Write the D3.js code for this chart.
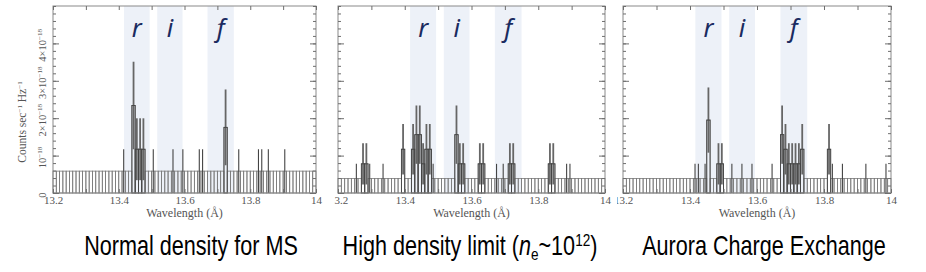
<!DOCTYPE html>
<html>
<head>
<meta charset="utf-8">
<script src="https://cdn.jsdelivr.net/npm/d3@7"></script>
<style>
body { margin: 0; background: #fff; }
</style>
</head>
<body>
<svg id="chart" width="926" height="272"></svg>
<script>
/*global d3 */
// tick labels / categories
var wavelengthTicks = [13.2, 13.4, 13.6, 13.8, 14];
var wavelengthTickLabels = ["13.2", "13.4", "13.6", "13.8", "14"];
var fluxTicks = [0, 1e-18, 2e-18, 3e-18, 4e-18];
var fluxTickMantissa = ["0", "10", "2\u00d710", "3\u00d710", "4\u00d710"];
var fluxTickExponent = ["", "\u221218", "\u221218", "\u221218", "\u221218"];
var lineNames = ["r", "i", "f"];
var lineLo = [13.416, 13.517, 13.670];
var lineHi = [13.494, 13.594, 13.750];
var panelTitles = ["Normal density for MS", "High density limit", "Aurora Charge Exchange"];

// spectra: counts per 0.01 A bin from 13.2 A, and flux of one count
var binStart = 13.2;
var binWidth = 0.01;
var fluxPerCount = [0.585e-18, 0.39e-18, 0.39e-18];
var countsNormal = [
    0, 0, 0, 0, 0, 0, 0, 0, 0, 0,
    0, 0, 0, 0, 0, 0, 0, 0, 0, 0,
    0, 1, 0, 0, 4, 2, 2, 2, 0, 0,
    1, 0, 0, 0, 0, 0, 1, 0, 0, 1,
    0, 0, 0, 0, 1, 1, 0, 0, 0, 0,
    0, 0, 3, 0, 0, 0, 1, 0, 0, 0,
    0, 0, 1, 1, 0, 1, 0, 0, 0, 0,
    1, 0, 0, 0, 0, 0, 0, 0, 0, 0
];
var countsHighDensity = [
    0, 0, 0, 0, 0, 1, 0, 2, 2, 1,
    0, 0, 0, 1, 0, 0, 0, 0, 0, 3,
    0, 0, 3, 4, 4, 2, 3, 3, 1, 0,
    0, 0, 0, 0, 0, 4, 2, 2, 0, 0,
    0, 0, 2, 2, 0, 0, 0, 1, 0, 1,
    0, 2, 2, 0, 0, 0, 0, 0, 0, 0,
    0, 0, 0, 2, 2, 0, 0, 0, 1, 1,
    0, 0, 0, 0, 0, 0, 0, 0, 0, 0
];
var countsAurora = [
    0, 0, 0, 0, 0, 0, 0, 0, 0, 0,
    0, 0, 0, 0, 0, 0, 0, 0, 0, 0,
    0, 1, 1, 0, 1, 5, 0, 0, 2, 2,
    0, 0, 1, 0, 0, 1, 0, 0, 1, 0,
    0, 0, 0, 0, 1, 0, 0, 4, 3, 2,
    2, 2, 2, 3, 0, 0, 0, 0, 0, 0,
    0, 3, 1, 0, 0, 1, 0, 0, 0, 0,
    0, 0, 1, 0, 0, 0, 0, 0, 1, 0
];
var allCounts = [countsNormal, countsHighDensity, countsAurora];

// layout
var panelLeft = [53, 338, 623];
var panelRight = [316, 605, 891];
var clipLeft = [0, 334, 617];
var clipRight = [326, 613, 926];
var captionX = [191, 470, 764];
var plotTop = 6, plotBottom = 193;
var serif = "'Liberation Serif', 'Times New Roman', serif";
var axisGrey = "#6e6e6e";

var svg = d3.select("#chart");
var defs = svg.append("defs");

var drawPanel = function (p) {
    "use strict";
    var counts = allCounts[p];
    var fpc = fluxPerCount[p];
    var x = d3.scaleLinear().domain([13.2, 14]).range([panelLeft[p], panelRight[p]]);
    var y = d3.scaleLinear().domain([0, 5e-18]).range([plotBottom, plotTop]);

    defs.append("clipPath").attr("id", "clip" + p)
        .append("rect").attr("x", clipLeft[p]).attr("y", 0)
        .attr("width", clipRight[p] - clipLeft[p]).attr("height", 224);
    var g = svg.append("g").attr("clip-path", "url(#clip" + p + ")");

    // line bands
    g.selectAll("rect.band").data(lineNames).enter().append("rect")
        .attr("class", "band")
        .attr("x", function (d, i) { return x(lineLo[i]); })
        .attr("width", function (d, i) { return x(lineHi[i]) - x(lineLo[i]); })
        .attr("y", y(5e-18))
        .attr("height", y(0) - y(5e-18))
        .attr("fill", "#edf1f8");

    g.selectAll("text.line").data(lineNames).enter().append("text")
        .attr("class", "line")
        .attr("x", function (d, i) { return (x(lineLo[i]) + x(lineHi[i])) / 2; })
        .attr("y", 37)
        .attr("text-anchor", "middle")
        .attr("font-family", "'Noto Sans', 'Open Sans', sans-serif")
        .attr("font-style", "italic")
        .attr("font-size", 25)
        .attr("fill", "#1a2b60")
        .text(function (d) { return d; });

    var bins = counts.map(function (c, i) {
        return {lo: binStart + i * binWidth, hi: binStart + (i + 1) * binWidth, c: c};
    });

    // histogram boxes (empty bins shown at the one-count upper limit)
    g.selectAll("rect.bin").data(bins).enter().append("rect")
        .attr("class", "bin")
        .attr("x", function (d) { return x(d.lo); })
        .attr("width", function (d) { return x(d.hi) - x(d.lo); })
        .attr("y", function (d) { return y(Math.max(d.c, 1) * fpc); })
        .attr("height", function (d) { return y(0) - y(Math.max(d.c, 1) * fpc); })
        .attr("fill", "none")
        .attr("stroke", "#7a7a7a")
        .attr("stroke-width", 0.8);

    // error bars
    g.selectAll("line.err").data(bins.filter(function (d) { return d.c > 0; })).enter().append("line")
        .attr("class", "err")
        .attr("x1", function (d) { return x((d.lo + d.hi) / 2); })
        .attr("x2", function (d) { return x((d.lo + d.hi) / 2); })
        .attr("y1", function (d) { return y((d.c - Math.sqrt(d.c)) * fpc); })
        .attr("y2", function (d) { return y((d.c + Math.sqrt(d.c)) * fpc); })
        .attr("stroke", function (d) { return d.c > 1 ? "#666" : "#444"; })
        .attr("stroke-width", function (d) { return d.c > 1 ? 1.8 : 1.1; });

    // step outline of the detected bins
    g.selectAll("rect.top").data(bins.filter(function (d) { return d.c > 1; })).enter().append("rect")
        .attr("class", "top")
        .attr("x", function (d) { return x(d.lo); })
        .attr("width", function (d) { return x(d.hi) - x(d.lo); })
        .attr("y", function (d) { return y(d.c * fpc); })
        .attr("height", function (d) { return y(0) - y(d.c * fpc); })
        .attr("fill", "none")
        .attr("stroke", "#444")
        .attr("stroke-width", 0.9);

    // frame
    g.append("rect")
        .attr("x", x(13.2)).attr("y", y(5e-18))
        .attr("width", x(14) - x(13.2)).attr("height", y(0) - y(5e-18))
        .attr("fill", "none").attr("stroke", "#8a8a8a").attr("stroke-width", 1);

    var minorX = d3.range(13.2, 14.0001, 0.1);
    var minorY = d3.range(0, 5.0001e-18, 0.2e-18);
    var styleAxis = function (a) {
        a.select(".domain").remove();
        a.selectAll("line").attr("stroke", axisGrey);
    };
    g.append("g").attr("transform", "translate(0," + y(0) + ")")
        .call(d3.axisBottom(x).tickValues(minorX).tickSizeInner(-4).tickSizeOuter(0).tickFormat(""))
        .call(styleAxis);
    g.append("g").attr("transform", "translate(0," + y(5e-18) + ")")
        .call(d3.axisTop(x).tickValues(minorX).tickSizeInner(-4).tickSizeOuter(0).tickFormat(""))
        .call(styleAxis);
    g.append("g").attr("transform", "translate(" + x(13.2) + ",0)")
        .call(d3.axisLeft(y).tickValues(minorY).tickSizeInner(-3).tickSizeOuter(0).tickFormat(""))
        .call(styleAxis);
    g.append("g").attr("transform", "translate(" + x(13.2) + ",0)")
        .call(d3.axisLeft(y).tickValues(fluxTicks).tickSizeInner(-6).tickSizeOuter(0).tickFormat(""))
        .call(styleAxis);
    g.append("g").attr("transform", "translate(" + x(14) + ",0)")
        .call(d3.axisRight(y).tickValues(minorY).tickSizeInner(-3).tickSizeOuter(0).tickFormat(""))
        .call(styleAxis);
    g.append("g").attr("transform", "translate(" + x(14) + ",0)")
        .call(d3.axisRight(y).tickValues(fluxTicks).tickSizeInner(-6).tickSizeOuter(0).tickFormat(""))
        .call(styleAxis);

    // x tick labels
    var xa = g.append("g").attr("transform", "translate(0," + y(0) + ")")
        .call(d3.axisBottom(x).tickValues(wavelengthTicks).tickSizeInner(0).tickSizeOuter(0).tickPadding(3)
            .tickFormat(function (d, i) { return wavelengthTickLabels[i]; }));
    xa.select(".domain").remove();
    xa.selectAll("text").attr("font-family", serif).attr("font-size", 11).attr("fill", "#555");

    g.append("text")
        .attr("x", (x(13.2) + x(14)) / 2).attr("y", 217)
        .attr("text-anchor", "middle")
        .attr("font-family", serif).attr("font-size", 12).attr("fill", "#555")
        .text("Wavelength (\u00c5)");

    if (p === 0) {
        var yl = g.selectAll("text.ytick").data(fluxTicks).enter().append("text")
            .attr("class", "ytick")
            .attr("transform", function (d) { return "translate(46," + (y(d) + 2) + ") rotate(-90)"; })
            .attr("text-anchor", "middle")
            .attr("font-family", serif).attr("font-size", 10.5).attr("fill", "#555");
        yl.append("tspan").text(function (d, i) { return fluxTickMantissa[i]; });
        yl.append("tspan").attr("dy", -4).attr("font-size", 7)
            .text(function (d, i) { return fluxTickExponent[i]; });

        var yt = g.append("text")
            .attr("transform", "translate(26,122) rotate(-90)")
            .attr("text-anchor", "middle")
            .attr("font-family", serif).attr("font-size", 11.5).attr("fill", "#555");
        yt.append("tspan").text("Counts sec");
        yt.append("tspan").attr("dy", -4).attr("font-size", 7).text("\u22121");
        yt.append("tspan").attr("dy", 4).text(" Hz");
        yt.append("tspan").attr("dy", -4).attr("font-size", 7).text("\u22121");
    }

    // caption (narrow face emulated by a horizontal squeeze)
    var cap = svg.append("text")
        .attr("transform", "translate(" + captionX[p] + ",255) scale(0.8,1)")
        .attr("text-anchor", "middle")
        .attr("font-family", "'Liberation Sans', Arial, sans-serif")
        .attr("font-size", 27).attr("fill", "#000");
    cap.append("tspan").text(panelTitles[p]);
    if (p === 1) {
        cap.append("tspan").text(" (");
        cap.append("tspan").attr("font-style", "italic").text("n");
        cap.append("tspan").attr("font-size", 17).attr("dy", 5).text("e");
        cap.append("tspan").attr("dy", -5).text("~10");
        cap.append("tspan").attr("font-size", 17).attr("dy", -9).text("12");
        cap.append("tspan").attr("dy", 9).text(")");
    }
};

[0, 1, 2].forEach(drawPanel);
</script>
</body>
</html>
